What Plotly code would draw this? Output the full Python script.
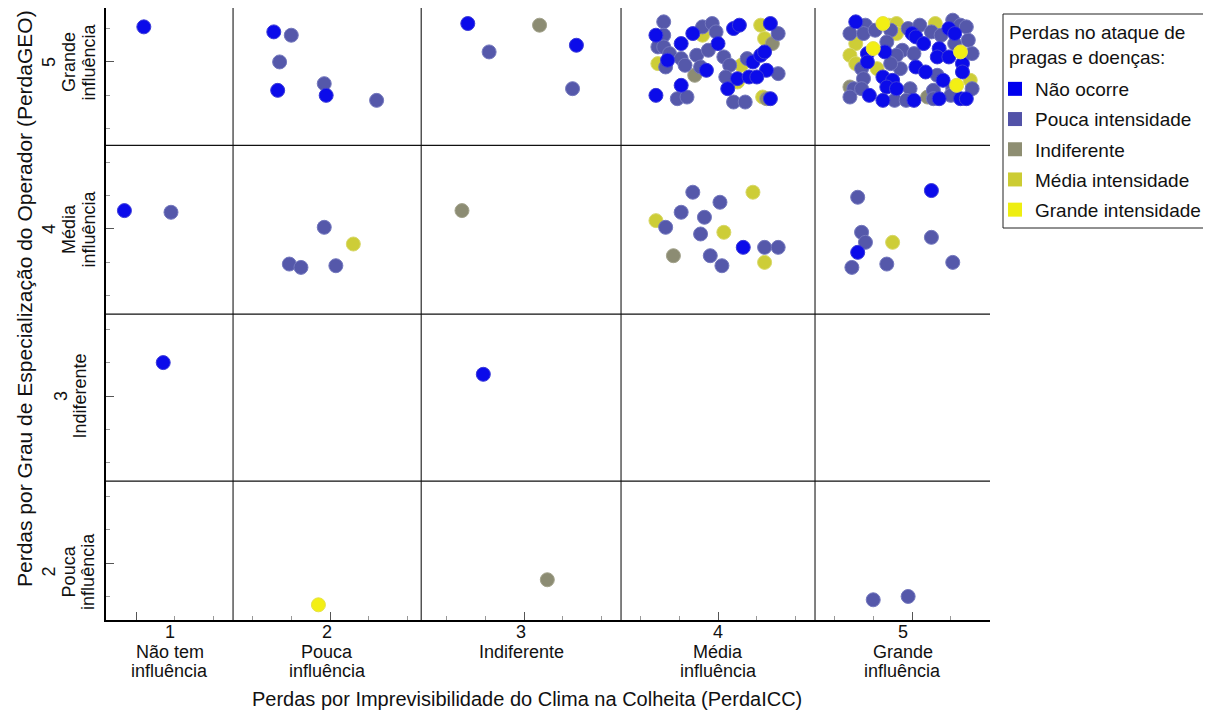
import plotly.graph_objects as go

# ---------------- data (jittered positions) ----------------
series_names = ["Não ocorre", "Pouca intensidade", "Indiferente",
                "Média intensidade", "Grande intensidade"]

nao_ocorre = [
    (1.04, 5.21), (0.94, 4.11), (1.14, 3.20), (1.71, 5.18), (1.73, 4.83), (1.98, 4.80),
    (2.71, 5.23), (3.27, 5.10), (2.79, 3.13), (4.13, 3.89), (5.10, 4.23), (4.72, 3.86),
    (3.68, 5.16), (3.81, 5.11), (3.87, 5.17), (4.00, 5.11), (4.08, 5.20), (4.11, 5.22),
    (4.27, 5.23), (3.74, 5.01), (3.94, 4.95), (4.10, 4.90), (4.18, 5.00), (4.22, 5.04),
    (4.24, 5.06), (4.25, 4.95), (4.16, 4.91), (4.20, 4.91), (4.05, 4.84), (3.68, 4.80),
    (3.81, 4.86), (4.27, 4.78),
    (4.71, 5.24), (5.19, 5.20), (5.00, 5.17), (5.02, 5.15), (5.22, 5.17), (5.06, 5.11),
    (4.77, 5.05), (4.86, 5.06), (5.14, 5.08), (5.13, 5.03), (5.19, 5.03), (4.77, 5.00),
    (5.02, 4.97), (5.07, 4.94), (5.26, 4.99), (5.26, 4.94), (4.85, 4.91), (4.90, 4.89),
    (5.16, 4.89), (4.87, 4.85), (4.92, 4.84), (4.78, 4.80), (4.85, 4.77), (5.01, 4.77),
    (5.14, 4.78), (5.25, 4.78), (5.28, 4.78),
]

pouca = [
    (1.18, 4.10), (1.80, 5.16), (1.74, 5.00), (1.97, 4.87), (2.24, 4.77),
    (1.97, 4.01), (1.79, 3.79), (1.85, 3.77), (2.03, 3.78), (2.82, 5.06), (3.25, 4.84),
    (3.87, 4.22), (4.01, 4.16), (3.73, 4.01), (3.81, 4.10), (3.93, 4.07), (3.91, 3.97),
    (3.96, 3.84), (4.02, 3.78), (4.24, 3.89), (4.31, 3.89),
    (4.72, 4.19), (4.74, 3.98), (4.76, 3.92), (5.10, 3.95), (4.69, 3.77), (4.87, 3.79),
    (5.21, 3.80), (4.80, 1.78), (4.98, 1.80),
    (3.72, 5.24), (3.72, 5.16), (3.69, 5.09), (3.72, 5.09), (3.75, 5.05), (3.92, 5.21),
    (3.97, 5.23), (3.99, 5.18), (4.31, 5.17), (3.73, 4.97), (3.81, 5.02), (3.83, 4.98),
    (3.89, 5.04), (3.91, 4.97), (3.95, 5.07), (4.03, 5.03), (4.06, 4.98), (4.04, 4.91),
    (4.15, 5.02), (4.31, 4.93), (3.79, 4.78), (3.84, 4.79), (4.08, 4.76), (4.14, 4.76),
    (4.76, 5.22), (4.89, 5.19), (4.98, 5.20), (5.04, 5.22), (5.21, 5.25), (5.25, 5.22),
    (5.28, 5.21), (4.68, 5.17), (4.75, 5.17), (4.81, 5.19), (5.10, 5.18), (5.15, 5.16),
    (5.29, 5.13), (4.87, 5.12), (5.22, 5.11), (4.95, 5.07), (5.01, 5.05), (4.92, 5.04),
    (5.31, 5.05), (4.74, 4.96), (4.94, 4.96), (5.13, 4.92), (4.89, 4.99), (4.75, 4.90),
    (4.70, 4.84), (4.74, 4.84), (4.99, 4.84), (5.11, 4.83), (5.21, 4.84), (5.31, 4.84),
    (4.68, 4.79), (4.91, 4.77), (4.97, 4.77), (5.20, 4.80), (5.11, 4.78),
]

indiferente = [
    (3.08, 5.22), (2.68, 4.11), (3.12, 1.90), (3.77, 3.84),
    (4.28, 5.11), (3.88, 4.92), (4.25, 4.78), (4.68, 4.85), (5.08, 4.79),
]

media = [
    (2.12, 3.91), (4.18, 4.22), (3.68, 4.05), (4.03, 3.98), (4.24, 3.80), (4.90, 3.92),
    (3.92, 5.16), (4.22, 5.22), (4.24, 5.14), (3.69, 4.99), (4.12, 4.98), (4.10, 4.88),
    (4.23, 4.79), (4.88, 5.22), (4.92, 5.23), (5.12, 5.23), (4.92, 5.17), (4.71, 5.11),
    (4.68, 5.04), (4.71, 4.99), (4.82, 4.96), (5.30, 4.89),
]

grande = [(1.94, 1.75), (4.85, 5.23), (4.80, 5.08), (5.25, 5.06), (5.23, 4.86)]

x_cat_labels = [["1", "Não tem", "influência"], ["2", "Pouca", "influência"],
                ["3", "Indiferente"], ["4", "Média", "influência"],
                ["5", "Grande", "influência"]]
y_cat_values = [5, 4, 3, 2]
y_cat_labels = [["5", "Grande", "influência"], ["4", "Média", "influência"],
                ["3", "Indiferente"], ["2", "Pouca", "influência"]]

x_title = "Perdas por Imprevisibilidade do Clima na Colheita (PerdaICC)"
y_title = "Perdas por Grau de Especialização do Operador (PerdaGEO)"
legend_title = "Perdas no ataque de<br>pragas e doenças:"

# ---------------- styling ----------------
fill_colors = ["#0B0BEA", "#5558AA", "#8C8C73", "#CDCD37", "#F3EF14"]
edge_colors = ["#3B3BD8", "#7478BE", "#A3A38C", "#D8D86A", "#E6E24A"]
legend_colors = ["#0000EE", "#5252A8", "#8E8E72", "#CCCC33", "#EEEE11"]
FONT = "Arial, Liberation Sans, sans-serif"

X_RANGE = [0.845, 5.402]
Y_RANGE = [1.659, 5.323]
x_bounds = [1.5, 2.47, 3.5, 4.5]
y_bounds = [2.49, 3.49, 4.5]
y_label_pos = [5.0, 4.0, 3.0, 1.95]

# page geometry (the page body has an 8 px margin)
BODY = 8
W, H = 1211 - BODY, 711 - BODY
PL, PR, PT, PB = 106, 990, 8, 620   # plot area in page pixels


def pxx(p):
    return (p - PL) / (PR - PL)


def pxy(p):
    return (PB - p) / (PB - PT)


fig = go.Figure()

series = [nao_ocorre, pouca, indiferente, media, grande]
draw_order = [3, 2, 1, 0, 4]
for i in draw_order:
    pts = series[i]
    fig.add_trace(go.Scatter(
        x=[p[0] for p in pts], y=[p[1] for p in pts], mode="markers",
        name=series_names[i], showlegend=False, hoverinfo="skip",
        marker=dict(size=14, color=fill_colors[i],
                    line=dict(width=1, color=edge_colors[i])),
    ))

for i, nm in enumerate(series_names):
    fig.add_trace(go.Scatter(
        x=[None], y=[None], mode="markers", name=nm, legendgroup=nm,
        marker=dict(symbol="square", size=14, color=legend_colors[i],
                    line=dict(width=0)),
    ))

shapes = []
for xb in x_bounds:
    shapes.append(dict(type="line", xref="x", yref="paper", x0=xb, x1=xb, y0=0, y1=1,
                       line=dict(color="#3C3C3C", width=1.3)))
for yb in y_bounds:
    shapes.append(dict(type="line", xref="paper", yref="y", x0=0, x1=1, y0=yb, y1=yb,
                       line=dict(color="#111111", width=1.3)))
# legend frame
shapes.append(dict(type="rect", xref="paper", yref="paper",
                   x0=pxx(1003), x1=pxx(1210), y0=pxy(228), y1=pxy(14),
                   line=dict(color="#222", width=1), fillcolor="rgba(0,0,0,0)"))

annotations = []
LBL = 18
# x category labels centred in each visible column
edges = [X_RANGE[0]] + x_bounds + [X_RANGE[1]]
x_line_y = [632, 651.5, 671]
for k, lines in enumerate(x_cat_labels):
    xc = (edges[k] + edges[k + 1]) / 2
    for j, t in enumerate(lines):
        annotations.append(dict(text=t, x=xc, xref="x", y=pxy(x_line_y[j]), yref="paper",
                                showarrow=False, xanchor="center", yanchor="middle",
                                font=dict(family=FONT, size=LBL, color="#111")))
# y category labels (rotated)
for v, lines in zip(y_label_pos, y_cat_labels):
    xs = [49, 69, 88.5] if len(lines) == 3 else [61, 80.5]
    for j, t in enumerate(lines):
        annotations.append(dict(text=t, x=pxx(xs[j]), xref="paper", y=v, yref="y",
                                textangle=-90, showarrow=False,
                                xanchor="center", yanchor="middle",
                                font=dict(family=FONT, size=LBL, color="#111")))
# axis titles
annotations.append(dict(text=x_title, x=pxx(527), xref="paper", y=pxy(699), yref="paper",
                        showarrow=False, xanchor="center", yanchor="middle",
                        font=dict(family=FONT, size=20, color="#111")))
annotations.append(dict(text=y_title, x=pxx(24), xref="paper", y=pxy(299), yref="paper",
                        textangle=-90, showarrow=False, xanchor="center", yanchor="middle",
                        font=dict(family=FONT, size=21, color="#111")))
# legend title
annotations.append(dict(text=legend_title, x=pxx(1007), xref="paper", y=pxy(44.5),
                        yref="paper", showarrow=False, xanchor="left", yanchor="middle",
                        align="left", font=dict(family=FONT, size=19, color="#111")))

fig.update_layout(
    width=W, height=H,
    margin=dict(l=PL - BODY, r=BODY + W - PR, t=PT - BODY, b=BODY + H - PB,
                autoexpand=False),
    paper_bgcolor="white", plot_bgcolor="white",
    shapes=shapes, annotations=annotations,
    font=dict(family=FONT, size=19, color="#111"),
    xaxis=dict(range=X_RANGE, showgrid=False, zeroline=False, showline=True,
               linecolor="black", linewidth=2, showticklabels=False,
               tickmode="array", tickvals=[1, 2, 3, 4, 5], ticks="inside",
               ticklen=8, tickcolor="#555",
               minor=dict(tick0=0, dtick=0.2, ticks="inside", ticklen=4,
                          tickcolor="#999", showgrid=False)),
    yaxis=dict(range=Y_RANGE, showgrid=False, zeroline=False, showline=True,
               linecolor="black", linewidth=2, showticklabels=False,
               tickmode="array", tickvals=[2, 3, 4, 5], ticks="inside",
               ticklen=8, tickcolor="#555",
               minor=dict(tick0=0, dtick=0.2, ticks="inside", ticklen=4,
                          tickcolor="#999", showgrid=False)),
    legend=dict(x=pxx(995), y=pxy(70), xanchor="left", yanchor="top",
                borderwidth=0, bgcolor="rgba(0,0,0,0)",
                font=dict(family=FONT, size=19, color="#111"),
                tracegroupgap=2.5, itemwidth=30, traceorder="grouped"),
    showlegend=True,
)

fig.write_html("out.html")
